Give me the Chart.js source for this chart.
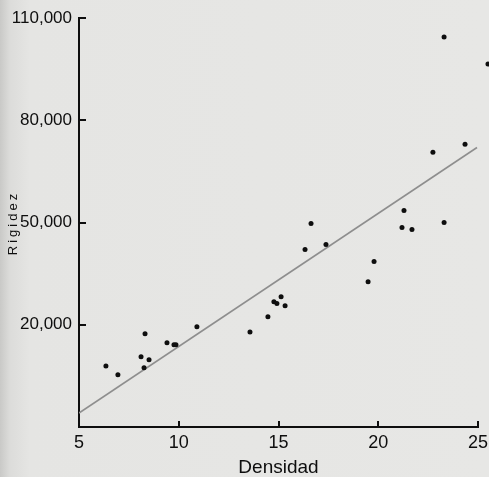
<!DOCTYPE html>
<html>

<head>
    <meta charset="utf-8">
    <title>Rigidez vs Densidad</title>
    <style>
        html, body {
            margin: 0;
            padding: 0;
        }

        body {
            width: 489px;
            height: 477px;
            background: linear-gradient(to right, #c9c9c7 0px, #dcdcda 10px, #e5e5e3 30px, #e7e7e5 100%);
        }

        #wrap {
            position: relative;
            width: 489px;
            height: 477px;
        }
    </style>
</head>

<body>
    <div id="wrap">
        <canvas id="myChart"></canvas>
    </div>

    <script src="https://cdn.jsdelivr.net/npm/chart.js"></script>

    <script>
        // Observed values
        const densidad = [6.35, 6.95, 8.31, 8.11, 8.51, 8.26, 9.41, 9.76, 9.86, 10.91,
            13.57, 14.47, 14.77, 14.92, 15.13, 15.33, 16.33, 16.63, 17.38, 19.49,
            19.79, 21.19, 21.29, 21.69, 23.30, 22.74, 24.35, 23.30, 25.5];
        const rigidez = [7900, 5300, 17350, 10600, 9700, 7350, 14700, 14100, 14100, 19400,
            17900, 22350, 26750, 26200, 28250, 25600, 42050, 49700, 43550, 32650,
            38550, 48550, 53550, 47950, 50000, 70600, 72950, 104400, 96500];

        // Fitted line end points
        const lineX = [5, 24.95];
        const lineY = [-5900, 72000];

        // Axis ticks
        const xTicks = [5, 10, 15, 20, 25];
        const yTicks = [20000, 50000, 80000, 110000];

        const ink = '#0e0e0e';
        const dotRadius = 2.5;

        const points = densidad.map((d, i) => ({ x: d, y: rigidez[i] }));
        const fit = lineX.map((d, i) => ({ x: d, y: lineY[i] }));

        // Chart.js skips points lying outside the chart area, so paint those ones here
        const strayPoints = {
            id: 'strayPoints',
            afterDatasetsDraw(chart) {
                const { ctx, chartArea } = chart;
                const meta = chart.getDatasetMeta(0);
                ctx.save();
                ctx.fillStyle = ink;
                meta.data.forEach(pt => {
                    const out = pt.x > chartArea.right + dotRadius || pt.x < chartArea.left - dotRadius ||
                        pt.y < chartArea.top - dotRadius || pt.y > chartArea.bottom + dotRadius;
                    if (out) {
                        ctx.beginPath();
                        ctx.arc(pt.x, pt.y, dotRadius, 0, Math.PI * 2);
                        ctx.fill();
                    }
                });
                ctx.restore();
            }
        };

        // short tick marks pointing into the plot, plus the rotated y title
        const innerTicks = {
            id: 'innerTicks',
            afterDraw(chart) {
                const { ctx, chartArea, scales } = chart;
                ctx.save();
                ctx.strokeStyle = ink;
                ctx.lineWidth = 2;
                ctx.beginPath();
                xTicks.slice(1).forEach(v => {
                    const px = Math.round(scales.x.getPixelForValue(v));
                    ctx.moveTo(px, chartArea.bottom);
                    ctx.lineTo(px, chartArea.bottom - 6);
                });
                yTicks.forEach(v => {
                    const py = Math.round(scales.y.getPixelForValue(v));
                    ctx.moveTo(chartArea.left, py);
                    ctx.lineTo(chartArea.left + 7, py);
                });
                ctx.stroke();

                ctx.translate(13, 223);
                ctx.rotate(-Math.PI / 2);
                ctx.fillStyle = ink;
                ctx.font = '13px "Liberation Sans", Arial, sans-serif';
                ctx.letterSpacing = '3px';
                ctx.textAlign = 'center';
                ctx.textBaseline = 'middle';
                ctx.fillText('Rigidez', 0, 0);
                ctx.restore();
            }
        };

        const config = {
            type: 'scatter',
            data: {
                datasets: [{
                    label: 'Rigidez',
                    data: points,
                    backgroundColor: ink,
                    borderColor: ink,
                    pointRadius: dotRadius,
                    borderWidth: 0,
                    clip: false
                }, {
                    label: 'Recta ajustada',
                    type: 'line',
                    data: fit,
                    borderColor: '#8e8e8e',
                    borderWidth: 1.6,
                    pointRadius: 0,
                    fill: false
                }]
            },
            options: {
                responsive: true,
                maintainAspectRatio: false,
                animation: false,
                layout: {
                    padding: { left: 0, top: 18, right: 11, bottom: 0 }
                },
                plugins: {
                    legend: { display: false },
                    tooltip: { enabled: false }
                },
                scales: {
                    x: {
                        type: 'linear',
                        min: 5,
                        max: 25,
                        grid: { display: false, drawTicks: false },
                        border: { color: ink, width: 2 },
                        afterBuildTicks: s => { s.ticks = xTicks.map(v => ({ value: v })); },
                        afterFit: s => {
                            s.height = 50;
                            s.paddingLeft = 0;
                            s.paddingRight = 0;
                        },
                        ticks: {
                            color: ink,
                            padding: 5,
                            maxRotation: 0,
                            font: { family: '"Liberation Sans", Arial, sans-serif', size: 18 }
                        },
                        title: {
                            display: true,
                            text: 'Densidad',
                            color: ink,
                            padding: { top: 0, bottom: 0 },
                            font: { family: '"Liberation Sans", Arial, sans-serif', size: 19, lineHeight: 1 }
                        }
                    },
                    y: {
                        type: 'linear',
                        min: -10000,
                        max: 110000,
                        grid: { display: false, drawTicks: false },
                        border: { color: ink, width: 2 },
                        afterBuildTicks: s => { s.ticks = yTicks.map(v => ({ value: v })); },
                        afterFit: s => { s.width = 79; },
                        ticks: {
                            color: ink,
                            padding: 7,
                            callback: v => v.toLocaleString('en-US'),
                            font: { family: '"Liberation Sans", Arial, sans-serif', size: 17 }
                        }
                    }
                }
            },
            plugins: [strayPoints, innerTicks]
        };

        const myChart = new Chart(document.getElementById('myChart'), config);
    </script>

</body>

</html>
